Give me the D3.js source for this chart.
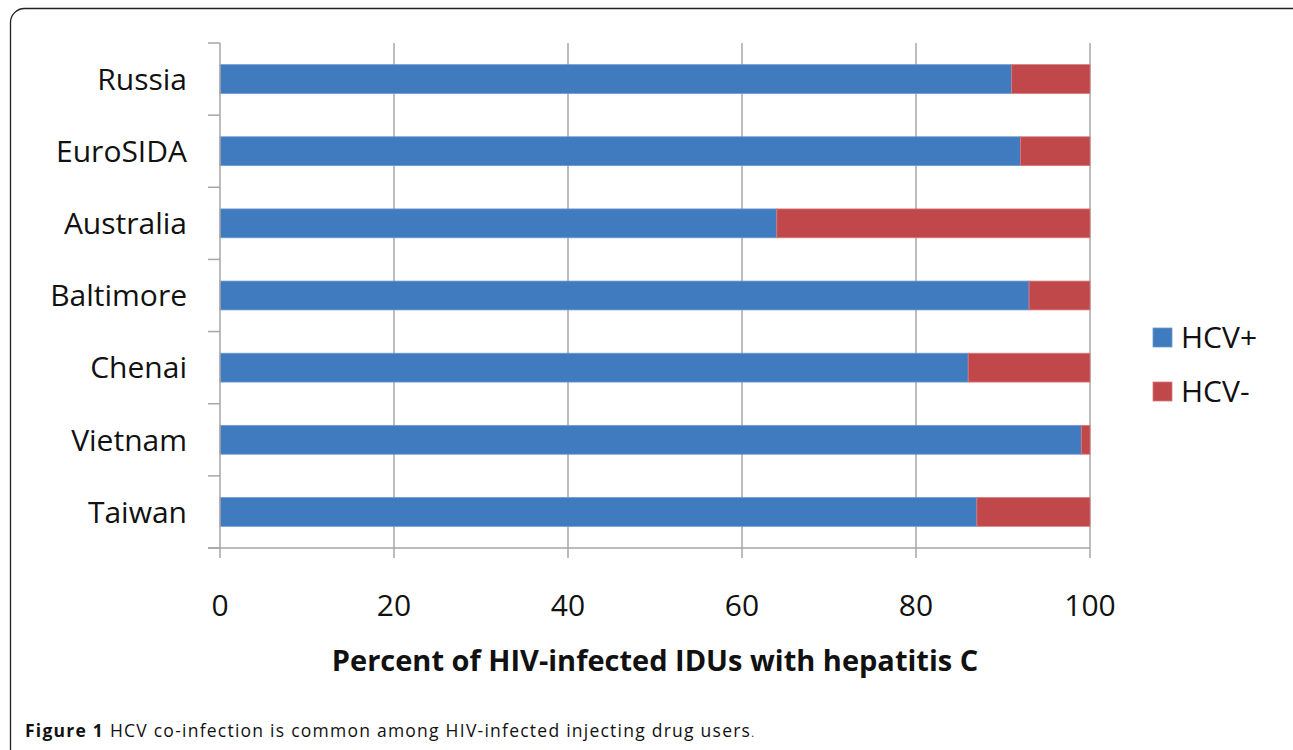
<!DOCTYPE html>
<html>
<head>
<meta charset="utf-8">
<script src="https://cdn.jsdelivr.net/npm/d3@7"></script>
<style>
  html, body { margin: 0; padding: 0; background: #fff; }
  svg { display: block; }
</style>
</head>
<body>
<svg id="chart" width="1293" height="750"></svg>
<script>
// Cohorts, top to bottom
const categories = ["Russia", "EuroSIDA", "Australia", "Baltimore", "Chenai", "Vietnam", "Taiwan"];
// Percent HCV-positive among HIV-infected IDUs
const hcvPos = [91, 92, 64, 93, 86, 99, 87];
// Percent HCV-negative
const hcvNeg = [9, 8, 36, 7, 14, 1, 13];
const xTicks = [0, 20, 40, 60, 80, 100];
const seriesNames = ["HCV+", "HCV-"];
const colors = ["#3f7bbe", "#c0474a"];

const svg = d3.select("#chart");
const font = "'Open Sans', Lato, sans-serif";
const labelSize = 30;

// Rounded frame around the figure
svg.append("rect")
  .attr("x", 10.5).attr("y", 8.5)
  .attr("width", 1300).attr("height", 760)
  .attr("rx", 14)
  .attr("fill", "none").attr("stroke", "#222").attr("stroke-width", 1.3);

const plot = { left: 220, right: 1090, top: 43, bottom: 548 };

const x = d3.scaleLinear().domain([0, 100]).range([plot.left, plot.right]);
const y = d3.scaleBand().domain(categories).range([plot.top, plot.bottom]).paddingInner(0.6).paddingOuter(0.3);
const yOuter = d3.scaleBand().domain(categories).range([plot.top, plot.bottom]);

// Vertical gridlines
svg.append("g").selectAll("line")
  .data(xTicks.filter(t => t > 0))
  .join("line")
  .attr("x1", d => x(d)).attr("x2", d => x(d))
  .attr("y1", plot.top).attr("y2", plot.bottom)
  .attr("stroke", "#bdbdbd").attr("stroke-width", 2);

// Stacked bars
const stacked = categories.map((c, i) => ({ c, v: [hcvPos[i], hcvNeg[i]] }));
stacked.forEach(d => {
  let acc = 0;
  d.v.forEach((val, k) => {
    svg.append("rect")
      .attr("x", x(acc))
      .attr("y", y(d.c))
      .attr("width", x(acc + val) - x(acc))
      .attr("height", y.bandwidth())
      .attr("fill", colors[k])
      .attr("stroke", k === 0 ? "#6f9ad0" : "#d77b7c")
      .attr("stroke-width", 0.8);
    acc += val;
  });
});

// Category axis with ticks between bands
const yAxisG = svg.append("g");
yAxisG.append("line")
  .attr("x1", plot.left).attr("x2", plot.left)
  .attr("y1", plot.top).attr("y2", plot.bottom)
  .attr("stroke", "#a6a6a6").attr("stroke-width", 1.5);
const bounds = categories.map(c => yOuter(c)).concat([plot.bottom]);
yAxisG.selectAll("line.tick")
  .data(bounds)
  .join("line").attr("class", "tick")
  .attr("x1", plot.left - 12).attr("x2", plot.left)
  .attr("y1", d => d).attr("y2", d => d)
  .attr("stroke", "#a6a6a6").attr("stroke-width", 1.5);
yAxisG.selectAll("text")
  .data(categories)
  .join("text")
  .attr("x", 187)
  .attr("y", d => yOuter(d) + yOuter.bandwidth() / 2)
  .attr("dy", "0.36em")
  .attr("text-anchor", "end")
  .attr("font-family", font).attr("font-size", labelSize).attr("fill", "#111")
  .text(d => d);

// Value axis
const xAxisG = svg.append("g");
xAxisG.append("line")
  .attr("x1", plot.left - 12).attr("x2", plot.right)
  .attr("y1", plot.bottom).attr("y2", plot.bottom)
  .attr("stroke", "#a6a6a6").attr("stroke-width", 1.5);
xAxisG.selectAll("line.tick")
  .data(xTicks)
  .join("line").attr("class", "tick")
  .attr("x1", d => x(d)).attr("x2", d => x(d))
  .attr("y1", plot.bottom).attr("y2", plot.bottom + 10)
  .attr("stroke", "#a6a6a6").attr("stroke-width", 1.5);
xAxisG.selectAll("text")
  .data(xTicks)
  .join("text")
  .attr("x", d => x(d))
  .attr("y", 605)
  .attr("dy", "0.36em")
  .attr("text-anchor", "middle")
  .attr("font-family", font).attr("font-size", labelSize).attr("fill", "#111")
  .text(d => d);

// Axis title
svg.append("text")
  .attr("x", 655).attr("y", 661)
  .attr("dy", "0.36em")
  .attr("text-anchor", "middle")
  .attr("font-family", font).attr("font-size", 29).attr("font-weight", "bold").attr("fill", "#111")
  .text("Percent of HIV-infected IDUs with hepatitis C");

// Legend
const legend = svg.append("g");
seriesNames.forEach((name, k) => {
  const ly = 337 + k * 54;
  legend.append("rect")
    .attr("x", 1153).attr("y", ly - 9)
    .attr("width", 19).attr("height", 19)
    .attr("fill", colors[k])
    .attr("stroke", k === 0 ? "#6f9ad0" : "#d77b7c").attr("stroke-width", 0.8);
  legend.append("text")
    .attr("x", 1181).attr("y", ly)
    .attr("dy", "0.36em")
    .attr("font-family", font).attr("font-size", labelSize).attr("fill", "#111")
    .text(name);
});

// Figure caption, lightly tracked to span the caption line
const cap = svg.append("text")
  .attr("x", 25).attr("y", 737)
  .attr("font-family", font)
  .attr("font-size", 17.5).attr("fill", "#111");
cap.append("tspan").attr("font-weight", "bold").text("Figure 1");
cap.append("tspan").text(" HCV co-infection is common among HIV-infected injecting drug users");
cap.append("tspan").attr("font-size", 11).text(".");
const capTarget = 730;
const capLen = cap.node().getComputedTextLength();
const capChars = cap.text().length;
cap.attr("letter-spacing", Math.max(0, (capTarget - capLen) / capChars).toFixed(2));
</script>
</body>
</html>
